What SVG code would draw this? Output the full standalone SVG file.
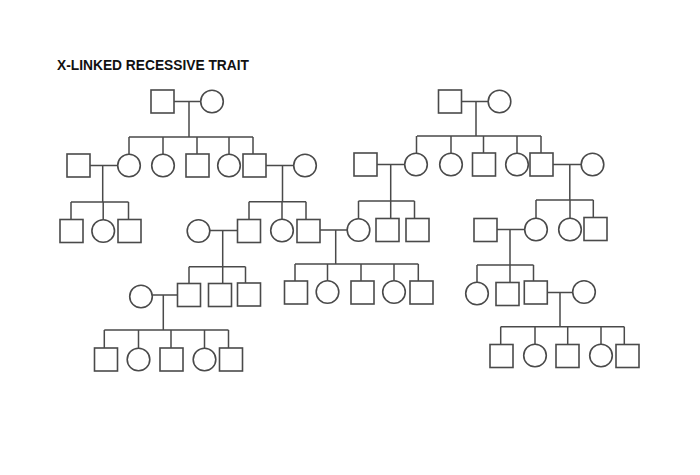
<svg xmlns="http://www.w3.org/2000/svg" width="700" height="475" viewBox="0 0 700 475">
<style>
.sq{fill:#fff;stroke:#4a4a4a;stroke-width:1.6}
.ci{fill:#fff;stroke:#4a4a4a;stroke-width:1.6}
.ln{fill:none;stroke:#4a4a4a;stroke-width:1.5}
.title{font-family:"Liberation Sans",Arial,sans-serif;font-weight:bold;font-size:14px;fill:#111}
</style>
<rect width="700" height="475" fill="#fff"/>
<text class="title" x="57" y="70" textLength="192" lengthAdjust="spacingAndGlyphs">X-LINKED RECESSIVE TRAIT</text>
<g id="connectors" class="ln">
<!-- left family -->
<path d="M174 101.5H200.7M189 101.5V137M129 137H253M129 137V154.2M163 137V154.2M197 137V154M229 137V154.2M253 137V154"/>
<path d="M90 165.5H117.7M102.7 165.5V202M71 202H128.5M71 202V219.5M103.2 202V219.7M128.5 202V219.5"/>
<path d="M266 165.5H293.7M282.5 165.5V201.7M249 201.7H306M249 201.7V219.5M282 201.7V219.2M306 201.7V219.5"/>
<path d="M209.8 230.5H237.5M222.7 230.5V266.7M189 266.7H245.5M189 266.7V283.5M222.7 266.7V283.5M245.5 266.7V283"/>
<path d="M152.3 295H177.5M163.3 295V330M104.3 330H228.5M104.3 330V348M138.5 330V348.2M171 330V348M204.5 330V348.2M228.5 330V348"/>
<path d="M320 230H347.2M335.7 230V264M295 264H418.3M295 264V281M327.5 264V280.7M361 264V281M394 264V280.7M418.3 264V281"/>
<!-- right family -->
<path d="M461.5 101.5H488.2M476 101.5V136M417 136H541M416.5 136V153.2M451 136V153.2M483.5 136V153M517 136V153.2M541 136V153"/>
<path d="M377 164.5H404.7M390.7 164.5V201M358.5 201H414.5M358.5 201V218.7M390.7 201V218.5M414.5 201V218.5"/>
<path d="M553 164.5H581.2M569.8 164.5V200M536 200H593.3M536 200V218.2M570 200V218.2M593.3 200V217.5"/>
<path d="M497 229.5H524.7M510 229.5V265M477 265H533.5M477 265V282.2M510 265V282.5M533.5 265V281"/>
<path d="M547.3 292.5H572.7M560 292.5V326.7M500.7 326.7H624.3M500.7 326.7V344.5M535 326.7V344.2M567.7 326.7V344.5M601 326.7V344.2M624.3 326.7V344.5"/>
</g>
<!-- left family nodes -->
<g id="L1m"><rect class="sq" x="151" y="90" width="23" height="23"/></g>
<g id="L1f"><circle class="ci" cx="212" cy="101.5" r="11.3"/></g>
<g id="L2s1"><rect class="sq" x="67" y="154" width="23" height="23"/></g>
<g id="L2c1"><circle class="ci" cx="129" cy="165.5" r="11.3"/></g>
<g id="L2c2"><circle class="ci" cx="163" cy="165.5" r="11.3"/></g>
<g id="L2c3"><rect class="sq" x="186" y="154" width="23" height="23"/></g>
<g id="L2c4"><circle class="ci" cx="229" cy="165.5" r="11.3"/></g>
<g id="L2c5"><rect class="sq" x="243" y="154" width="23" height="23"/></g>
<g id="L2s2"><circle class="ci" cx="305" cy="165.5" r="11.3"/></g>
<g id="L3a1"><rect class="sq" x="60" y="219.5" width="23" height="23"/></g>
<g id="L3a2"><circle class="ci" cx="103.2" cy="231" r="11.3"/></g>
<g id="L3a3"><rect class="sq" x="118" y="219.5" width="23" height="23"/></g>
<g id="L3s1"><circle class="ci" cx="198.5" cy="231" r="11.3"/></g>
<g id="L3b1"><rect class="sq" x="237.5" y="219.5" width="23" height="23"/></g>
<g id="L3b2"><circle class="ci" cx="282" cy="230.5" r="11.3"/></g>
<g id="L3b3"><rect class="sq" x="297" y="219.5" width="23" height="23"/></g>
<g id="L4s1"><circle class="ci" cx="141" cy="296.5" r="11.3"/></g>
<g id="L4a1"><rect class="sq" x="177.5" y="283.5" width="23" height="23"/></g>
<g id="L4a2"><rect class="sq" x="208.5" y="283.5" width="23" height="23"/></g>
<g id="L4a3"><rect class="sq" x="237.5" y="283" width="23" height="23"/></g>
<g id="L5a1"><rect class="sq" x="94.5" y="348" width="23" height="23"/></g>
<g id="L5a2"><circle class="ci" cx="138.5" cy="359.5" r="11.3"/></g>
<g id="L5a3"><rect class="sq" x="160" y="348" width="23" height="23"/></g>
<g id="L5a4"><circle class="ci" cx="204.5" cy="359.5" r="11.3"/></g>
<g id="L5a5"><rect class="sq" x="219.5" y="348" width="23" height="23"/></g>
<g id="M4a1"><rect class="sq" x="284.5" y="281" width="23" height="23"/></g>
<g id="M4a2"><circle class="ci" cx="327.5" cy="292" r="11.3"/></g>
<g id="M4a3"><rect class="sq" x="351" y="281" width="23" height="23"/></g>
<g id="M4a4"><circle class="ci" cx="394" cy="292" r="11.3"/></g>
<g id="M4a5"><rect class="sq" x="410" y="281" width="23" height="23"/></g>
<!-- right family nodes -->
<g id="R1m"><rect class="sq" x="438.5" y="90" width="23" height="23"/></g>
<g id="R1f"><circle class="ci" cx="499.5" cy="101.5" r="11.3"/></g>
<g id="R2s1"><rect class="sq" x="354" y="153" width="23" height="23"/></g>
<g id="R2c1"><circle class="ci" cx="416" cy="164.5" r="11.3"/></g>
<g id="R2c2"><circle class="ci" cx="451" cy="164.5" r="11.3"/></g>
<g id="R2c3"><rect class="sq" x="472.5" y="153" width="23" height="23"/></g>
<g id="R2c4"><circle class="ci" cx="517" cy="164.5" r="11.3"/></g>
<g id="R2c5"><rect class="sq" x="530" y="153" width="23" height="23"/></g>
<g id="R2s2"><circle class="ci" cx="592.5" cy="164.5" r="11.3"/></g>
<g id="R3a1"><circle class="ci" cx="358.5" cy="230" r="11.3"/></g>
<g id="R3a2"><rect class="sq" x="376" y="218.5" width="23" height="23"/></g>
<g id="R3a3"><rect class="sq" x="406" y="218.5" width="23" height="23"/></g>
<g id="R3s1"><rect class="sq" x="474" y="218.5" width="23" height="23"/></g>
<g id="R3b1"><circle class="ci" cx="536" cy="229.5" r="11.3"/></g>
<g id="R3b2"><circle class="ci" cx="570" cy="229.5" r="11.3"/></g>
<g id="R3b3"><rect class="sq" x="584" y="217.5" width="23" height="23"/></g>
<g id="R4a1"><circle class="ci" cx="477" cy="293.5" r="11.3"/></g>
<g id="R4a2"><rect class="sq" x="496" y="282.5" width="23" height="23"/></g>
<g id="R4a3"><rect class="sq" x="524.3" y="281" width="23" height="23"/></g>
<g id="R4s1"><circle class="ci" cx="584" cy="292" r="11.3"/></g>
<g id="R5a1"><rect class="sq" x="490" y="344.5" width="23" height="23"/></g>
<g id="R5a2"><circle class="ci" cx="535" cy="355.5" r="11.3"/></g>
<g id="R5a3"><rect class="sq" x="556" y="344.5" width="23" height="23"/></g>
<g id="R5a4"><circle class="ci" cx="601" cy="355.5" r="11.3"/></g>
<g id="R5a5"><rect class="sq" x="616" y="344.5" width="23" height="23"/></g>
</svg>
